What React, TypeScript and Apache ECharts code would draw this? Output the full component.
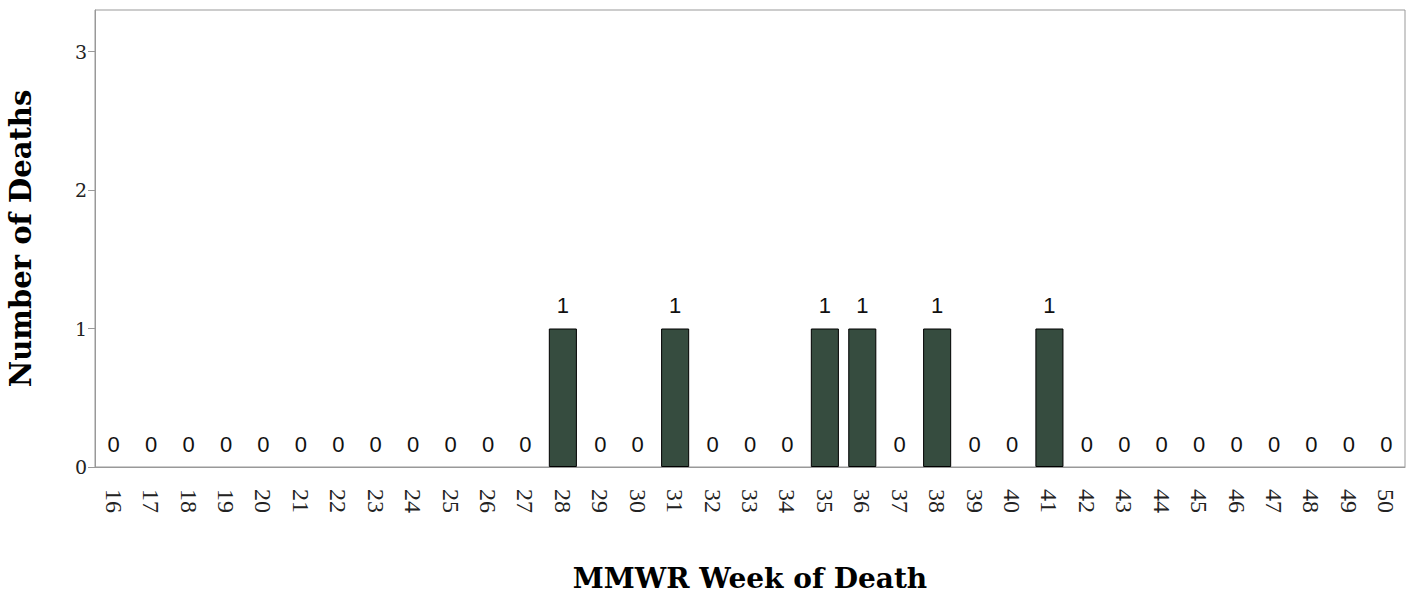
import React, { useEffect, useRef } from "react";
import * as echarts from "echarts";

const weeks: string[] = [
  "16","17","18","19","20","21","22","23","24","25","26","27","28","29","30","31","32","33",
  "34","35","36","37","38","39","40","41","42","43","44","45","46","47","48","49","50",
];
const deaths: number[] = [
  0,0,0,0,0,0,0,0,0,0,0,0,1,0,0,1,0,0,
  0,1,1,0,1,0,0,1,0,0,0,0,0,0,0,0,0,
];
const yTicks: number[] = [0, 1, 2, 3];
const yMax = 3.3;
const xTitle = "MMWR Week of Death";
const yTitle = "Number of Deaths";

export default function App() {
  const ref = useRef<HTMLDivElement>(null);
  useEffect(() => {
    if (!ref.current) return;
    const chart = echarts.init(ref.current, null, { renderer: "svg" });
    chart.setOption({
      animation: false,
      grid: {
        left: 95,
        right: 9,
        top: 10,
        bottom: 128,
        outerBoundsMode: "none",
        containLabel: false,
        show: true,
        borderColor: "#999",
        borderWidth: 1,
      },
      xAxis: {
        type: "category",
        data: weeks,
        name: xTitle,
        nameLocation: "middle",
        nameGap: 97,
        nameTextStyle: {
          fontFamily: "DejaVu Serif",
          fontWeight: "bold",
          fontSize: 28,
          lineHeight: 28,
          color: "#000",
          verticalAlign: "top",
        },
        axisLine: { lineStyle: { color: "#999" } },
        axisTick: { show: false },
        axisLabel: {
          rotate: -90,
          interval: 0,
          margin: 22,
          fontFamily: "Liberation Serif",
          fontSize: 24,
          color: "#222",
        },
      },
      yAxis: {
        type: "value",
        min: 0,
        max: yMax,
        interval: 1,
        name: yTitle,
        nameLocation: "middle",
        nameGap: 60,
        nameRotate: 90,
        nameTextStyle: {
          fontFamily: "DejaVu Serif",
          fontWeight: "bold",
          fontSize: 29,
          color: "#000",
        },
        axisLine: { show: true, lineStyle: { color: "#999" } },
        axisTick: {
          show: true,
          length: 7,
          customValues: yTicks,
          lineStyle: { color: "#999" },
        },
        splitLine: { show: false },
        axisLabel: {
          margin: 8,
          customValues: yTicks,
          fontFamily: "DejaVu Serif",
          fontSize: 19,
          color: "#222",
        },
      },
      series: [
        {
          type: "bar",
          data: deaths.map((v) => ({
            value: v,
            itemStyle: v === 0 ? { borderWidth: 0 } : undefined,
          })),
          barCategoryGap: "25%",
          itemStyle: { color: "#364c3f", borderColor: "#000", borderWidth: 1 },
          label: {
            show: true,
            position: "top",
            distance: 12,
            fontFamily: "Liberation Sans",
            fontSize: 22,
            color: "#111",
          },
        },
      ],
    });
    return () => chart.dispose();
  }, []);
  return (
    <div
      ref={ref}
      style={{ position: "absolute", left: 0, top: 0, width: 1414, height: 595 }}
    />
  );
}
